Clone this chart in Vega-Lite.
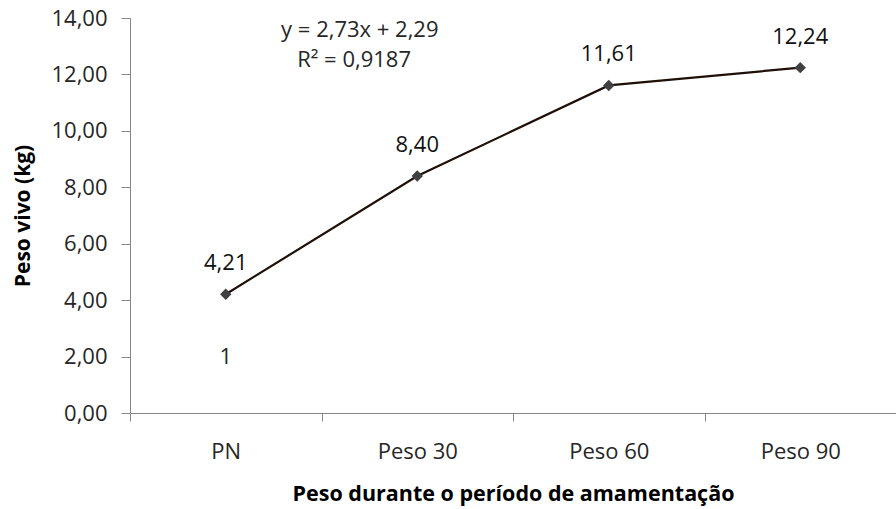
{
  "$schema": "https://vega.github.io/schema/vega-lite/v6.json",
  "width": 766,
  "height": 395,
  "autosize": {"type": "none"},
  "padding": {"left": 130, "top": 18, "right": 0, "bottom": 96},
  "background": "white",
  "config": {
    "locale": {"number": {"decimal": ",", "thousands": ".", "grouping": [3], "currency": ["R$", ""]}},
    "view": {"stroke": null},
    "font": "Open Sans",
    "axisY": {
      "titleFontSize": 21, "titleFontWeight": "bold", "titleColor": "#000000", "titlePadding": 17,
      "labelFontSize": 22, "labelColor": "#262626", "labelPadding": 14,
      "domainColor": "#868686", "tickColor": "#868686", "tickSize": 9, "grid": false
    },
    "axisX": {
      "titleFontSize": 21.5, "titleFontWeight": "bold", "titleColor": "#000000", "titlePadding": 21,
      "labelAngle": 0, "labelFontSize": 22, "labelColor": "#262626", "labelPadding": 20,
      "domainColor": "#868686", "tickColor": "#868686", "tickSize": 8, "grid": false
    }
  },
  "datasets": {
    "pts": [
      {"fase": "PN", "peso": 4.21},
      {"fase": "Peso 30", "peso": 8.40},
      {"fase": "Peso 60", "peso": 11.61},
      {"fase": "Peso 90", "peso": 12.24}
    ],
    "notes": [
      {"pos": 1.2, "y": 13.57, "label": "y = 2,73x + 2,29"},
      {"pos": 1.17, "y": 12.5, "label": "R² = 0,9187"},
      {"pos": 0.5, "y": 1.98, "label": "1"}
    ]
  },
  "layer": [
    {
      "data": {"name": "pts"},
      "layer": [
        {
          "mark": {"type": "line", "color": "#1e1008", "strokeWidth": 2.2},
          "encoding": {}
        },
        {
          "mark": {"type": "point", "shape": "diamond", "filled": true, "color": "#404040", "size": 130, "opacity": 1},
          "encoding": {}
        },
        {
          "mark": {"type": "text", "fontSize": 22, "color": "#111111", "dy": -31, "baseline": "middle"},
          "encoding": {"text": {"field": "peso", "type": "quantitative", "format": ".2f"}}
        }
      ],
      "encoding": {
        "x": {
          "field": "fase", "type": "nominal", "sort": null,
          "scale": {"paddingInner": 0, "paddingOuter": 0},
          "axis": {"title": "Peso durante o período de amamentação", "tickBand": "extent"}
        },
        "y": {
          "field": "peso", "type": "quantitative",
          "scale": {"domain": [0, 14], "nice": false},
          "axis": {"title": "Peso vivo (kg)", "format": ".2f", "values": [0, 2, 4, 6, 8, 10, 12, 14]}
        }
      }
    },
    {
      "data": {"name": "notes"},
      "mark": {"type": "text", "fontSize": 22, "color": "#262626", "baseline": "middle"},
      "encoding": {
        "x": {"field": "pos", "type": "quantitative", "scale": {"domain": [0, 4]}, "axis": null},
        "y": {"field": "y", "type": "quantitative", "axis": {"title": "Peso vivo (kg)", "format": ".2f", "values": [0, 2, 4, 6, 8, 10, 12, 14]}},
        "text": {"field": "label"}
      }
    }
  ],
  "resolve": {"scale": {"x": "independent"}}
}
